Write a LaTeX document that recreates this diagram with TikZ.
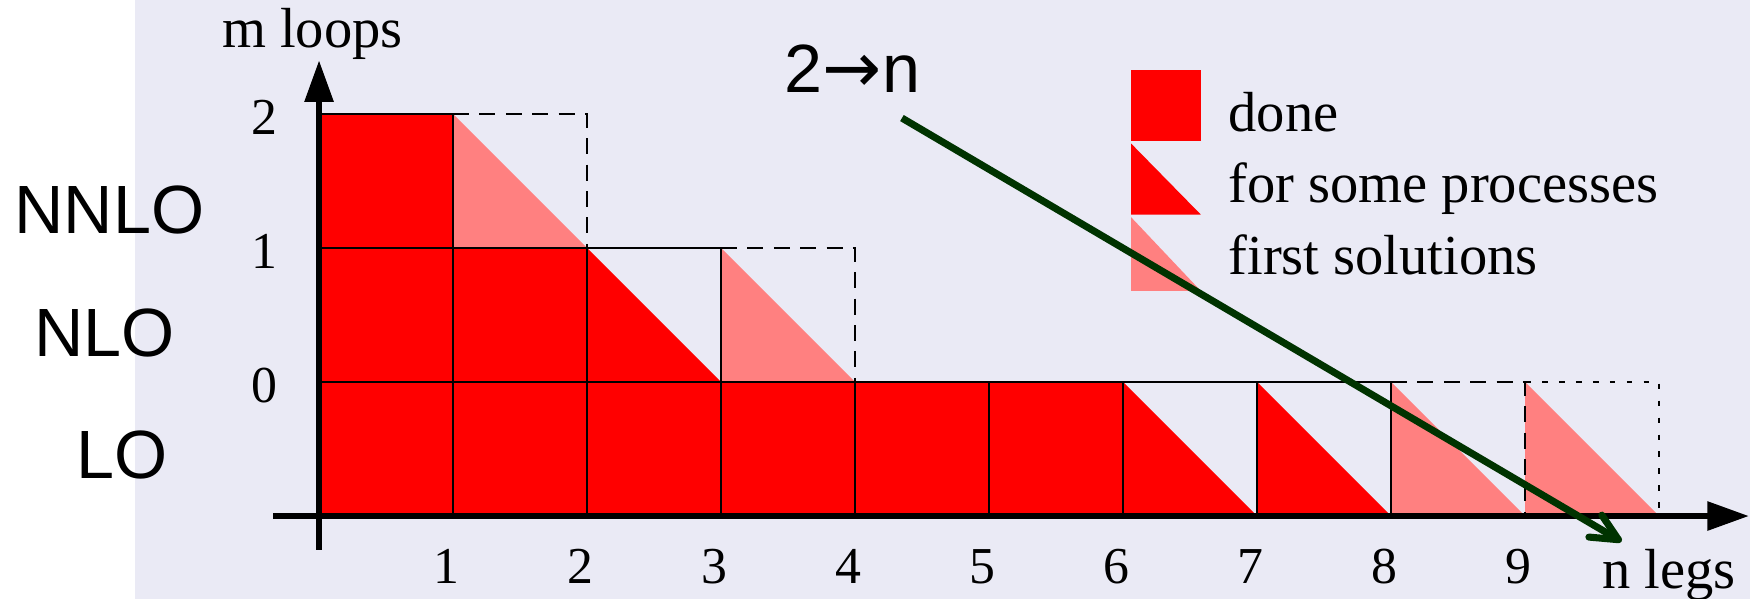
\documentclass[tikz,border=0pt]{standalone}
\usepackage{fontspec}
\setmainfont{Liberation Serif}
\newfontfamily\ordersans{Liberation Sans}
\newfontfamily\arrowsans{DejaVu Sans}
\usetikzlibrary{arrows.meta}

\definecolor{bgcol}{RGB}{234,234,245}
\definecolor{redfill}{RGB}{255,0,0}
\definecolor{pinkfill}{RGB}{255,128,128}
\definecolor{darkgreen}{RGB}{0,51,0}

\tikzstyle{cell} = [line width = 0.6pt]
\tikzstyle{halfdash} = [line width = 0.6pt, dash pattern = on 3.4pt off 2.2pt]
\tikzstyle{dotline} = [line width = 0.6pt, dash pattern = on 1.2pt off 2.4pt]
\tikzstyle{axis} = [line width = 1.2pt, -{Triangle[length = 3.1mm, width = 2.1mm]}]
\tikzstyle{order} = [font = \ordersans\fontsize{14.5}{17}\selectfont, inner sep = 0pt, anchor = base west]
\tikzstyle{tick} = [font = \fontsize{11}{13}\selectfont, inner sep = 0pt, anchor = base]
\tikzstyle{legtext} = [font = \fontsize{12}{14}\selectfont, inner sep = 0pt, anchor = base west]

\begin{document}
\begin{tikzpicture}
		\useasboundingbox (-2.381, -0.619) rectangle (10.679, 3.851);
		\fill [bgcol] (-1.373, -0.619) rectangle (10.679, 3.851);

		\fill [redfill] (0, 0) rectangle (6, 1);
		\fill [redfill] (0, 1) rectangle (2, 2);
		\fill [redfill] (0, 2) rectangle (1, 3);
		\foreach \x/\y in {2/1, 6/0, 7/0}
			\fill [redfill] (\x, \y+1) -- (\x, \y) -- (\x+1, \y) -- cycle;
		\foreach \x/\y in {1/2, 3/1, 8/0, 9/0}
			\fill [pinkfill] (\x, \y+1) -- (\x, \y) -- (\x+1, \y) -- cycle;

		\draw [cell] (0, 3) -- (1, 3) (0, 2) -- (3, 2) (0, 1) -- (8, 1);
		\draw [cell] (1, 0) -- (1, 3) (2, 0) -- (2, 2) (3, 0) -- (3, 2);
		\foreach \x in {4,...,8}
			\draw [cell] (\x, 0) -- (\x, 1);
		\draw [halfdash] (1, 3) -- (2, 3) -- (2, 2);
		\draw [halfdash] (3, 2) -- (4, 2) -- (4, 1);
		\draw [halfdash] (8, 1) -- (9, 1) -- (9, 0);
		\draw [dotline] (9, 1) -- (10, 1) -- (10, 0);

		\coordinate (ybot) at (0, -0.25);
		\coordinate (ytop) at (0, 3.40);
		\coordinate (xleft) at (-0.34, 0);
		\coordinate (xright) at (10.67, 0);
		\draw [axis] (ybot) -- (ytop);
		\draw [axis] (xleft) -- (xright);

		\node [legtext] at (-0.73, 3.50) (mloops) {m loops};
		\node [legtext] at (9.57, -0.54) (nlegs) {n legs};
		\foreach \n in {1,...,9}
			\node [tick] at (\n-0.05, -0.50) (x\n) {\n};
		\foreach \m in {0,1,2}
			\node [tick] at (-0.41, \m+0.85) (y\m) {\m};

		\node [order] at (-2.28, 2.11) (nnlo) {NNLO};
		\node [order] at (-2.13, 1.19) (nlo) {NLO};
		\node [order] at (-1.82, 0.28) (lo) {LO};
		\node [order] at (3.47, 3.16) (twon) {2{\arrowsans\fontsize{15}{17}\selectfont →}n};

		\fill [redfill] (6.06, 2.80) rectangle (6.58, 3.33);
		\fill [redfill] (6.06, 2.78) -- (6.06, 2.25) -- (6.58, 2.25) -- cycle;
		\fill [pinkfill] (6.06, 2.23) -- (6.06, 1.68) -- (6.58, 1.68) -- cycle;
		\node [legtext] at (6.78, 2.87) (done) {done};
		\node [legtext] at (6.78, 2.34) (some) {for some processes};
		\node [legtext] at (6.78, 1.80) (first) {first solutions};

		\coordinate (gstart) at (4.35, 2.97);
		\coordinate (gend) at (9.72, -0.19);
		\draw [darkgreen, line width = 1.5pt, -{Straight Barb[length = 2mm, width = 1.9mm, round]}] (gstart) -- (gend);
	\end{tikzpicture}
\end{document}
